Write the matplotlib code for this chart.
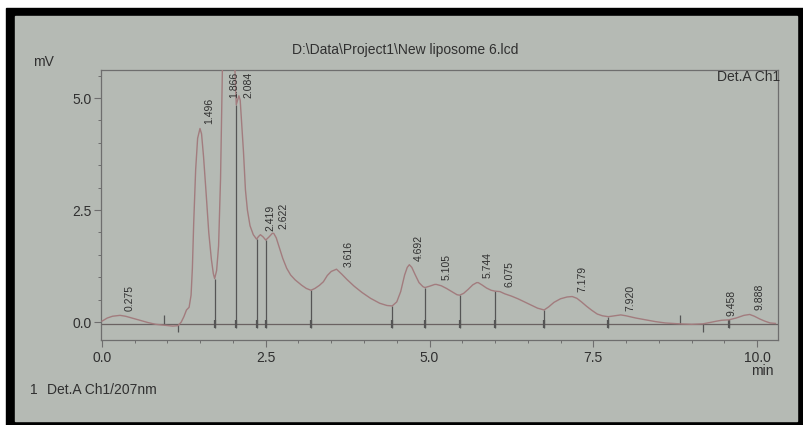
import numpy as np
import matplotlib
matplotlib.use("Agg")
import matplotlib.pyplot as plt
from matplotlib.patches import Rectangle
from matplotlib.ticker import MultipleLocator, FormatStrFormatter

# ---------------- data ----------------
time_min = [0.00, 0.08, 0.16, 0.275, 0.36, 0.46, 0.58, 0.70, 0.82, 0.95, 1.08, 1.16,
            1.21, 1.25, 1.29, 1.33, 1.36, 1.38, 1.40, 1.43, 1.46, 1.496, 1.52, 1.55,
            1.59, 1.63, 1.67, 1.70, 1.72, 1.75, 1.78, 1.81, 1.84, 1.866, 1.90, 1.97,
            2.02, 2.05, 2.07, 2.09, 2.11, 2.13, 2.16, 2.19, 2.22, 2.26, 2.31, 2.36,
            2.39, 2.419, 2.46, 2.50, 2.55, 2.60, 2.622, 2.66, 2.71, 2.76, 2.82, 2.88,
            2.95, 3.05, 3.12, 3.19, 3.25, 3.32, 3.38, 3.44, 3.50, 3.58, 3.66, 3.74,
            3.85, 3.97, 4.10, 4.24, 4.35, 4.43, 4.50, 4.56, 4.62, 4.66, 4.692, 4.73,
            4.78, 4.84, 4.90, 4.93, 5.00, 5.08, 5.105, 5.18, 5.26, 5.35, 5.42, 5.46,
            5.52, 5.59, 5.66, 5.72, 5.744, 5.80, 5.87, 5.94, 6.00, 6.075, 6.15, 6.25,
            6.35, 6.45, 6.55, 6.65, 6.75, 6.82, 6.90, 7.00, 7.10, 7.179, 7.25, 7.32,
            7.40, 7.48, 7.56, 7.64, 7.73, 7.82, 7.920, 8.00, 8.15, 8.30, 8.45, 8.60,
            8.82, 9.00, 9.17, 9.28, 9.38, 9.458, 9.57, 9.68, 9.80, 9.888, 9.96, 10.04,
            10.12, 10.20, 10.28]
signal_mv = [0.02, 0.09, 0.13, 0.15, 0.13, 0.09, 0.04, -0.01, -0.05, -0.07, -0.09, -0.08,
             0.00, 0.12, 0.27, 0.33, 0.60, 1.20, 2.20, 3.40, 4.10, 4.32, 4.20, 3.70,
             2.87, 2.00, 1.40, 1.08, 0.97, 1.15, 1.70, 3.20, 5.80, 7.80, 8.20, 7.60,
             6.00, 4.85, 4.95, 5.05, 4.95, 4.50, 3.80, 2.95, 2.50, 2.15, 1.95, 1.85,
             1.91, 1.95, 1.90, 1.83, 1.90, 1.98, 1.98, 1.88, 1.65, 1.42, 1.20, 1.05,
             0.94, 0.82, 0.75, 0.71, 0.75, 0.82, 0.90, 1.04, 1.13, 1.18, 1.07, 0.95,
             0.80, 0.66, 0.53, 0.42, 0.37, 0.36, 0.45, 0.68, 1.05, 1.22, 1.28, 1.22,
             1.06, 0.88, 0.79, 0.77, 0.80, 0.84, 0.84, 0.81, 0.75, 0.67, 0.61, 0.60,
             0.64, 0.73, 0.83, 0.88, 0.88, 0.83, 0.76, 0.71, 0.69, 0.68, 0.63, 0.58,
             0.52, 0.45, 0.38, 0.31, 0.27, 0.34, 0.44, 0.52, 0.56, 0.57, 0.53, 0.45,
             0.35, 0.26, 0.18, 0.14, 0.12, 0.14, 0.16, 0.14, 0.09, 0.05, 0.01, -0.02,
             -0.04, -0.05, -0.04, -0.01, 0.02, 0.04, 0.05, 0.09, 0.15, 0.17, 0.13, 0.07,
             0.02, -0.02, -0.03]

peak_rt = [0.275, 1.496, 1.866, 2.084, 2.419, 2.622, 3.616, 4.692, 5.105, 5.744,
           6.075, 7.179, 7.920, 9.458, 9.888]
peak_labels = ["0.275", "1.496", "1.866", "2.084", "2.419", "2.622", "3.616", "4.692",
               "5.105", "5.744", "6.075", "7.179", "7.920", "9.458", "9.888"]
drop_rt = [1.72, 2.05, 2.36, 2.50, 3.19, 4.43, 4.93, 5.46, 6.00, 6.75, 7.73, 9.57]
event_up_rt = [0.95, 8.82]
event_down_rt = [1.16, 9.17]
baseline_mv = -0.05

x_ticks = [0.0, 2.5, 5.0, 7.5, 10.0]
y_ticks = [0.0, 2.5, 5.0]

title_text = r"D:\Data\Project1\New liposome 6.lcd"
channel_text = "Det.A Ch1"
legend_num = "1"
legend_text = "Det.A Ch1/207nm"
y_unit = "mV"
x_unit = "min"

# ---------------- styling ----------------
W, H = 804, 425
paper = "#b5bab4"
ink = "#303030"
axis_col = "#6e6e6e"
curve_col = "#a27c7e"
drop_col = "#555555"
FONT = ["Liberation Sans", "DejaVu Sans"]
plt.rcParams["font.family"] = FONT

fig = plt.figure(figsize=(W / 100, H / 100), dpi=100, facecolor="white")


def fx(x):
    return x / W


def fy(y):
    return 1 - y / H


# photo frame and paper
fig.patches.append(Rectangle((fx(6), fy(425)), fx(804) - fx(6), fy(8) - fy(425),
                             transform=fig.transFigure, color="black", zorder=-10))
fig.patches.append(Rectangle((fx(15), fy(421)), fx(797) - fx(15), fy(16) - fy(421),
                             transform=fig.transFigure, color=paper, zorder=-9))

ax = fig.add_axes([fx(101), fy(340), fx(778) - fx(101), fy(70) - fy(340)])
ax.set_facecolor("none")
ax.set_xlim(-0.015, 10.32)
ax.set_ylim(-0.40, 5.625)

t = np.array(time_min)
s = np.array(signal_mv)

# baseline
ax.axhline(baseline_mv, color="#6a6262", lw=0.9, zorder=2)
# drop lines
drop_h = np.interp(drop_rt, t, s)
ax.vlines(drop_rt, baseline_mv - 0.08, drop_h, color=drop_col, lw=0.9, zorder=3)
ax.plot(drop_rt, [baseline_mv] * len(drop_rt), linestyle="none", marker="|",
        ms=6, mew=1.6, color=drop_col, zorder=3)
# integration events
ax.vlines(event_up_rt, baseline_mv, baseline_mv + 0.2, color=drop_col, lw=0.9, zorder=3)
ax.vlines(event_down_rt, baseline_mv, baseline_mv - 0.17, color=drop_col, lw=0.9, zorder=3)
# chromatogram trace
ax.plot(t, s, color=curve_col, lw=1.0, zorder=4)

# peak labels
for rt, lab in zip(peak_rt, peak_labels):
    yy = min(float(np.interp(rt, t, s)), 4.9)
    ax.annotate(lab, xy=(rt, yy), xytext=(7, 3), textcoords="offset points",
                rotation=90, ha="center", va="bottom", fontsize=7.5, color=ink,
                annotation_clip=False, zorder=5)

# axes styling
for side in ["left", "right", "top", "bottom"]:
    ax.spines[side].set_color(axis_col)
    ax.spines[side].set_linewidth(0.9)
ax.set_xticks(x_ticks)
ax.set_yticks(y_ticks)
ax.xaxis.set_minor_locator(MultipleLocator(0.5))
ax.yaxis.set_minor_locator(MultipleLocator(0.5))
ax.xaxis.set_major_formatter(FormatStrFormatter("%.1f"))
ax.yaxis.set_major_formatter(FormatStrFormatter("%.1f"))
ax.tick_params(which="major", direction="out", length=5, width=0.8, color=axis_col,
               labelsize=10, labelcolor=ink)
ax.tick_params(axis="x", which="major", pad=3)
ax.tick_params(axis="y", which="major", pad=2)
ax.tick_params(which="minor", direction="out", length=2.5, width=0.7, color=axis_col)
ax.tick_params(top=False, right=False, which="both")

# texts
fig.text(fx(405), fy(50), title_text, ha="center", va="center", fontsize=10, color=ink)
fig.text(fx(33), fy(62), y_unit, ha="left", va="center", fontsize=10, color=ink)
fig.text(fx(780), fy(77), channel_text, ha="right", va="center", fontsize=10, color=ink)
fig.text(fx(774), fy(371), x_unit, ha="right", va="center", fontsize=10, color=ink)
fig.text(fx(30), fy(390), legend_num, ha="left", va="center", fontsize=10, color=ink)
fig.text(fx(47), fy(390), legend_text, ha="left", va="center", fontsize=10, color=ink)

fig.savefig("out.png", dpi=100, facecolor="white")
